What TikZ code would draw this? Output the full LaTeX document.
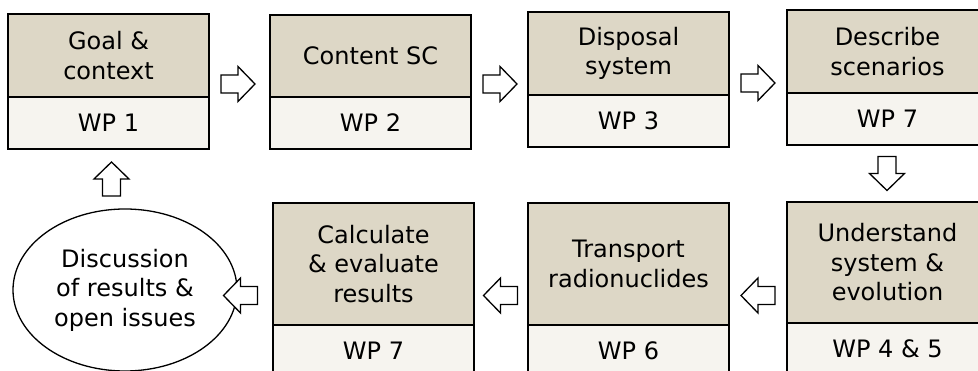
\documentclass[tikz,border=0pt]{standalone}
\usepackage{fontspec}
\setmainfont{DejaVu Sans}
\usetikzlibrary{shapes.geometric}
\definecolor{boxtop}{HTML}{DDD7C6}
\definecolor{boxbot}{HTML}{F6F4EF}
\tikzset{
  txt/.style={font=\fontsize{24}{29.5}\selectfont},
  headbox/.style={txt, draw, line width=1.8pt, fill=boxtop, minimum width=201pt,
    inner sep=0pt, outer sep=0pt, align=center, anchor=north west},
  wpbox/.style={txt, draw, line width=1.8pt, fill=boxbot, minimum width=201pt,
    inner sep=0pt, outer sep=0pt, anchor=north},
  discnode/.style={txt, draw, ellipse, line width=1.3pt, minimum width=224pt,
    minimum height=162pt, inner sep=0pt, align=center},
  barrow/.pic={\draw[line width=1.3pt, fill=white, line join=miter]
    (-17,-9) -- (0,-9) -- (0,-17.5) -- (17,0) -- (0,17.5) -- (0,9) -- (-17,9) -- cycle;}
}
\begin{document}
\begin{tikzpicture}[x=1pt,y=-1pt]
\useasboundingbox (0,0) rectangle (978,371);
\clip (0,0) rectangle (978,371);
\fill[white] (0,0) rectangle (978,371);
% top row
\node[headbox, minimum height=83pt] (goal) at (8,14) {Goal \&\\context};
\node[wpbox, minimum height=52pt] (wp1) at (goal.south) {WP 1};
\node[headbox, minimum height=82pt] (content) at (270,15) {Content SC};
\node[wpbox, minimum height=52pt] (wp2) at (content.south) {WP 2};
\node[headbox, minimum height=83pt] (disposal) at (528,12) {Disposal\\system};
\node[wpbox, minimum height=52pt] (wp3) at (disposal.south) {WP 3};
\node[headbox, minimum height=83pt] (describe) at (787,10) {Describe\\scenarios};
\node[wpbox, minimum height=52pt] (wp7a) at (describe.south) {WP 7};
% bottom row
\node[headbox, minimum height=121pt] (understand) at (787,202) {Understand\\system \&\\evolution};
\node[wpbox, minimum height=52pt] (wp45) at (understand.south) {WP 4 \& 5};
\node[headbox, minimum height=122pt] (transport) at (528,203) {Transport\\radionuclides};
\node[wpbox, minimum height=52pt] (wp6) at (transport.south) {WP 6};
\node[headbox, minimum height=122pt] (calculate) at (273,203) {Calculate\\\& evaluate\\results};
\node[wpbox, minimum height=52pt] (wp7b) at (calculate.south) {WP 7};
% ellipse
\node[discnode] (disc) at (125,290) {Discussion\\of results \&\\open issues};
% block arrows
\pic at (238,84) {barrow};
\pic at (500,84) {barrow};
\pic at (758,83) {barrow};
\pic[rotate=-90] at (887,173.5) {barrow};
\pic[rotate=180] at (758,295.5) {barrow};
\pic[rotate=180] at (500.5,295.5) {barrow};
\pic[rotate=180] at (240.5,295.5) {barrow};
\pic[rotate=90] at (111.5,179) {barrow};
\end{tikzpicture}
\end{document}
